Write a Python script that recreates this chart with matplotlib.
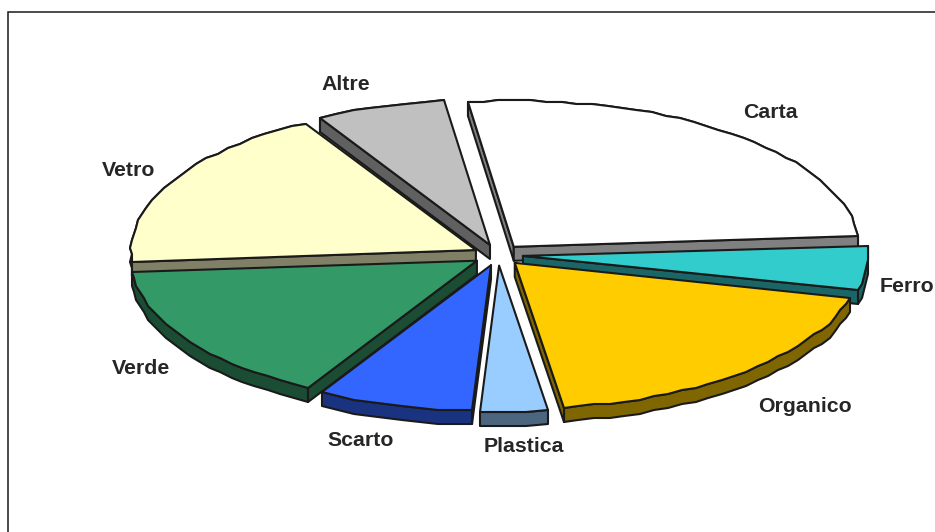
import numpy as np
import matplotlib
matplotlib.use("Agg")
import matplotlib.pyplot as plt
from matplotlib.patches import Polygon
from matplotlib.path import Path

plt.rcParams['font.family'] = ['Liberation Sans', 'DejaVu Sans']

# Slice shares, clockwise from the start of Carta
categories = ["Carta", "Ferro", "Organico", "Plastica", "Scarto", "Verde", "Vetro", "Altre"]
values = [26.0, 5.0, 18.9, 3.1, 7.3, 15.6, 18.0, 6.1]
top_colors = ["#FFFFFF", "#33CCCC", "#FFCC00", "#99CCFF", "#3366FF", "#339966", "#FFFFCC", "#C0C0C0"]
side_colors = ["#808080", "#1A6666", "#806600", "#4D6680", "#1A3380", "#1A4D33", "#808066", "#606060"]
label_pos = [(743, 112), (880, 286), (758, 406), (484, 446), (327, 440), (112, 368), (102, 171), (321, 84)]

# Layout in pixels
CX, CY = 498, 255
RX, RY = 345, 146
EXPLODE = 25
DEPTH = 14
START = -7.7
EDGE = "#1a1a1a"

fig = plt.figure(figsize=(9.35, 5.32), dpi=100)
ax = fig.add_axes([0, 0, 1, 1])
ax.set_xlim(0, 935)
ax.set_ylim(532, 0)
ax.axis("off")

# chart frame runs off the right and bottom of the picture
ax.plot([8, 8, 935], [532, 11.5, 11.5], color=EDGE, lw=1.1, solid_joinstyle="miter")


def to_px(angle):
    a = np.radians(angle)
    return np.sin(a) * RX, -np.cos(a) * RY


def jag(pts, step=2.0):
    # the original outline is a coarse stepped curve
    return np.round(pts / step) * step


def draw(poly, color, z):
    ax.add_patch(Polygon(poly, closed=True, facecolor=color, edgecolor=EDGE,
                         lw=1.5, joinstyle="round", zorder=z))


shares = np.array(values) / sum(values) * 360
edges = START + np.concatenate([[0], np.cumsum(shares)])
# back slices first, so the front ones sit on top
order = np.argsort([-np.cos(np.radians((edges[i] + edges[i + 1]) / 2)) for i in range(len(values))])

for z, i in enumerate(order):
    a0, a1 = edges[i], edges[i + 1]
    mid = np.radians((a0 + a1) / 2)
    apex = np.array([CX + np.sin(mid) * EXPLODE, CY - np.cos(mid) * EXPLODE * RY / RX])
    n = max(int((a1 - a0) / 2.5), 2)
    arc_x, arc_y = to_px(np.linspace(a0, a1, n))
    arc = jag(np.column_stack([arc_x, arc_y]) + apex)
    top = np.vstack([apex, arc])
    top_path = Path(np.vstack([top, apex]))
    down = np.array([0, DEPTH])
    base = z * 10
    # outer rim, then the cut walls that face the viewer, then the top
    draw(np.vstack([arc, (arc + down)[::-1]]), side_colors[i], base)
    for end in (arc[0], arc[-1]):
        if not top_path.contains_point((apex + end) / 2 + [0, 3]):
            draw([apex, end, end + down, apex + down], side_colors[i], base + 1)
    draw(top, top_colors[i], base + 2)

for name, (x, y) in zip(categories, label_pos):
    ax.text(x, y, name, fontsize=15.3, fontweight="bold", color="#262626",
            ha="left", va="center", zorder=200, clip_on=True)

fig.savefig("out.png", dpi=100)
